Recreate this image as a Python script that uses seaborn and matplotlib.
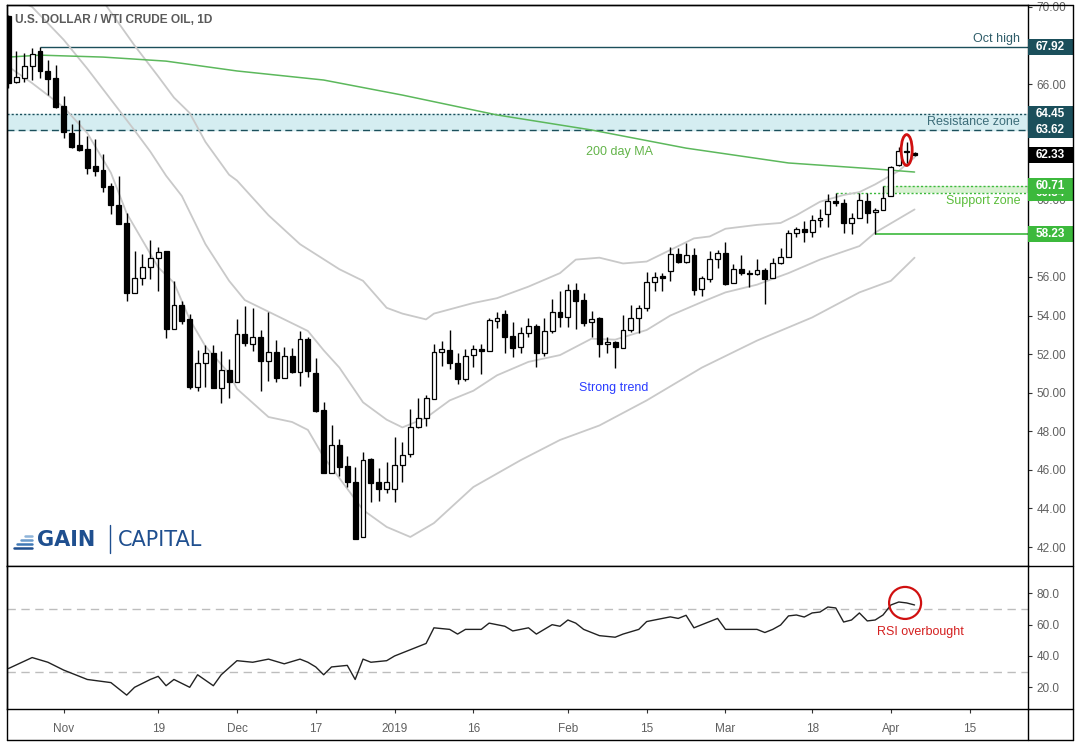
import numpy as np
import pandas as pd
import matplotlib
matplotlib.use("Agg")
import matplotlib.pyplot as plt
import seaborn as sns
from matplotlib.patches import Rectangle, Ellipse
from matplotlib.lines import Line2D

# ---------------- data ----------------
holidays = ["2018-12-25", "2019-01-01"]
dates = pd.bdate_range("2018-10-23", "2019-04-04").drop(pd.to_datetime(holidays))
axis_dates = pd.bdate_range("2018-10-23", "2019-04-30").drop(pd.to_datetime(holidays))

opens = [69.54, 66.11, 66.30, 66.92, 67.71, 66.68, 66.30, 64.86, 63.48, 62.84,
         62.63, 61.77, 61.54, 60.73, 59.73, 58.80, 55.18, 55.93, 56.50, 56.97,
         57.36, 53.29, 54.55, 53.82, 50.31, 51.52, 52.04, 50.23, 51.18, 50.57,
         53.04, 52.51, 52.87, 51.64, 52.09, 50.78, 51.89, 51.09, 52.78, 51.00,
         49.10, 45.82, 47.27, 46.20, 45.37, 42.52, 46.55, 45.37, 44.99, 44.99,
         46.25, 46.82, 48.21, 48.67, 49.66, 52.09, 52.20, 51.52, 50.69, 51.94,
         52.26, 52.15, 53.73, 54.06, 52.94, 52.35, 53.08, 53.46, 52.04, 53.20,
         54.20, 53.94, 55.32, 54.80, 53.65, 53.87, 52.51, 52.61, 52.33, 53.25,
         53.89, 54.41, 55.72, 56.04, 56.32, 57.17, 56.76, 57.14, 55.36, 55.89,
         56.92, 57.22, 55.67, 56.40, 56.22, 56.14, 56.34, 55.93, 56.71, 57.02,
         58.26, 58.47, 58.31, 58.94, 59.26, 59.94, 59.82, 58.81, 59.04, 59.94,
         59.35, 59.47, 60.20, 61.78, 62.55, 62.42]
highs = [69.60, 67.73, 67.62, 67.85, 67.92, 67.25, 66.99, 65.38, 63.93, 64.14,
         63.31, 63.15, 62.37, 60.89, 61.25, 59.30, 57.36, 57.19, 57.92, 57.57,
         57.36, 55.79, 54.75, 54.08, 52.21, 52.47, 52.47, 52.18, 51.73, 53.80,
         54.49, 54.37, 53.25, 54.17, 52.73, 52.38, 52.33, 53.18, 52.87, 51.78,
         49.50, 48.31, 47.61, 46.72, 46.15, 46.91, 46.60, 46.11, 46.42, 47.70,
         47.43, 49.15, 49.74, 49.88, 52.52, 52.69, 53.25, 52.04, 52.25, 52.47,
         52.52, 53.86, 54.20, 54.29, 53.65, 53.42, 53.86, 53.56, 53.86, 54.84,
         55.29, 55.62, 55.67, 55.15, 54.23, 53.91, 52.90, 52.69, 54.03, 54.55,
         54.55, 56.27, 56.27, 56.22, 57.57, 57.48, 57.74, 57.52, 56.06, 57.34,
         57.40, 57.81, 56.67, 57.14, 56.36, 56.91, 56.48, 56.97, 57.52, 58.43,
         58.60, 58.92, 59.21, 59.51, 60.28, 60.34, 60.03, 59.33, 60.34, 60.34,
         59.56, 60.71, 61.75, 62.75, 62.98, 62.49]
lows = [65.80, 66.08, 66.09, 66.21, 66.33, 65.43, 64.75, 63.22, 62.67, 62.55,
        61.35, 61.23, 60.40, 59.28, 58.74, 54.77, 55.18, 55.58, 55.88, 55.29,
        52.82, 53.29, 53.56, 50.18, 50.10, 50.31, 50.23, 49.45, 49.71, 50.57,
        52.44, 52.18, 50.10, 50.62, 50.57, 50.78, 51.00, 50.35, 50.83, 49.02,
        45.82, 45.82, 45.68, 45.09, 42.40, 42.52, 44.35, 44.40, 44.78, 44.35,
        45.35, 46.65, 48.15, 48.29, 49.66, 51.38, 51.21, 50.43, 50.62, 51.32,
        50.97, 52.15, 53.34, 52.07, 51.87, 52.07, 52.90, 51.35, 51.90, 53.11,
        53.42, 53.42, 53.30, 53.47, 52.87, 51.83, 52.07, 51.26, 52.33, 53.15,
        53.11, 54.25, 55.27, 55.29, 55.81, 56.71, 56.71, 55.08, 55.03, 55.75,
        56.48, 55.58, 55.67, 56.10, 55.49, 56.10, 54.58, 55.93, 56.67, 57.02,
        58.05, 57.80, 58.09, 58.60, 58.60, 59.68, 58.29, 58.21, 59.04, 58.81,
        58.23, 59.47, 60.20, 61.75, 61.89, 62.27]
closes = [66.05, 66.35, 66.92, 67.56, 66.66, 66.28, 64.79, 63.50, 62.75, 62.58,
          61.66, 61.51, 60.68, 59.75, 58.74, 55.18, 55.93, 56.50, 56.97, 57.31,
          53.29, 54.55, 53.73, 50.31, 51.52, 52.04, 50.23, 51.18, 50.57, 53.03,
          52.56, 52.87, 51.64, 52.09, 50.78, 51.89, 51.09, 52.77, 51.14, 49.05,
          45.82, 47.27, 46.13, 45.35, 42.40, 46.49, 45.30, 44.99, 45.37, 46.25,
          46.77, 48.21, 48.67, 49.71, 52.09, 52.25, 51.52, 50.69, 51.92, 52.26,
          52.15, 53.77, 53.86, 52.90, 52.30, 53.08, 53.46, 52.04, 53.20, 54.20,
          53.94, 55.32, 54.77, 53.63, 53.82, 52.54, 52.63, 52.38, 53.25, 53.86,
          54.37, 55.72, 55.98, 55.97, 57.17, 56.77, 57.14, 55.34, 55.93, 56.93,
          57.22, 55.63, 56.40, 56.19, 56.14, 56.34, 55.91, 56.71, 57.02, 58.26,
          58.47, 58.31, 58.95, 59.04, 59.94, 59.82, 58.81, 59.04, 59.99, 59.33,
          59.47, 60.11, 61.71, 62.53, 62.47, 62.33]

# Bollinger bands (read at sample candles)
bb_upper_idx = [0, 6, 10, 12, 16, 19, 21, 23, 25, 28, 29, 33, 37, 42, 45, 48, 50, 53, 54, 59,
                62, 66, 70, 72, 75, 78, 81, 84, 87, 89, 91, 95, 98, 100, 103, 106, 108, 110, 113, 115]
bb_upper = [75.0, 72.5, 71.0, 70.3, 68.0, 66.4, 65.3, 64.5, 63.0, 61.3, 61.0, 59.2, 57.7, 56.4,
            55.8, 54.4, 54.1, 53.8, 54.1, 54.65, 54.9, 55.5, 56.2, 56.9, 57.0, 56.7, 56.8, 57.4,
            58.0, 58.1, 58.5, 58.7, 58.8, 59.2, 59.9, 60.25, 60.4, 60.8, 61.5, 62.2]
bb_mid_idx = [0, 3, 7, 10, 13, 16, 18, 20, 22, 25, 28, 30, 32, 35, 38, 40, 42, 45, 48, 50, 53,
              56, 59, 62, 66, 70, 74, 77, 81, 84, 88, 91, 95, 99, 103, 108, 110, 115]
bb_mid = [70.6, 70.0, 68.3, 66.8, 65.2, 63.6, 62.5, 61.25, 60.2, 57.7, 55.8, 54.8, 54.4, 53.8,
          53.2, 52.2, 51.3, 49.5, 48.6, 48.2, 48.7, 49.6, 50.1, 50.9, 51.6, 51.95, 52.8, 52.75,
          53.25, 54.0, 54.7, 55.2, 55.6, 56.2, 56.9, 57.6, 58.3, 59.5]
bb_lower_idx = [0, 3, 7, 10, 13, 15, 17, 19, 21, 23, 25, 28, 29, 33, 36, 38, 40, 45, 48, 51, 54,
                59, 65, 70, 75, 81, 88, 95, 102, 108, 112, 115]
bb_lower = [66.9, 66.05, 64.8, 63.46, 61.4, 59.3, 57.9, 56.5, 55.7, 53.8, 52.4, 51.0, 50.2, 48.74,
            48.48, 48.07, 46.67, 43.92, 43.04, 42.52, 43.24, 45.11, 46.5, 47.55, 48.3, 49.6, 51.3,
            52.7, 53.9, 55.2, 55.8, 57.0]

ma200_idx = [0, 4, 12, 20, 29, 40, 50, 62, 74, 86, 99, 110, 115]
ma200 = [67.40, 67.50, 67.40, 67.19, 66.68, 66.21, 65.43, 64.40, 63.62, 62.68, 61.91, 61.60, 61.44]

rsi_idx = [0, 3, 5, 7, 10, 13, 15, 16, 18, 19, 20, 21, 23, 24, 26, 27, 29, 31, 33, 35, 37, 38, 39,
           40, 41, 43, 44, 45, 46, 48, 49, 51, 53, 54, 56, 57, 58, 60, 61, 63, 64, 66, 67, 69, 70,
           71, 72, 73, 75, 77, 78, 80, 81, 84, 85, 86, 87, 89, 90, 91, 93, 95, 96, 97, 98, 99, 100,
           101, 102, 103, 104, 105, 106, 107, 108, 109, 110, 111, 112, 113, 114, 115]
rsi = [32, 39, 36, 31, 25, 23, 15, 20, 25, 27, 21, 25, 20, 28, 21, 28, 37, 36, 38, 35, 38, 36, 33,
       28, 33, 34, 25, 38, 36, 37, 40, 44, 48, 58, 57, 54, 57, 57, 61, 59, 56, 58, 54, 60, 59, 63,
       61, 57, 53, 52, 54, 57, 62, 65, 64, 66, 58, 62, 64, 57, 57, 57, 55, 57, 59.8, 65.6, 66.2,
       64.9, 67.5, 68.1, 71.3, 70.7, 61.7, 63.0, 67.5, 62.4, 63.0, 66.2, 72.6, 74.5, 73.9, 72.6]

tick_dates = ["2018-11-01", "2018-11-19", "2018-12-03", "2018-12-17", "2019-01-02", "2019-01-16",
              "2019-02-01", "2019-02-15", "2019-03-01", "2019-03-18", "2019-04-01", "2019-04-15"]
tick_labels = ["Nov", "19", "Dec", "17", "2019", "16", "Feb", "15", "Mar", "18", "Apr", "15"]
price_ticks = [42, 44, 46, 48, 50, 52, 54, 56, 58, 60, 62, 64, 66, 68, 70]
hidden_price_ticks = [58, 62, 64, 68]  # covered by level boxes in the reference

oct_high = 67.92
res_top, res_bot = 64.45, 63.62
sup_top, sup_bot = 60.71, 60.34
sup_low = 58.23
last_price = 62.33

# ---------------- style ----------------
sns.set_theme(style="white")
plt.rcParams["font.family"] = ["Liberation Sans", "DejaVu Sans"]

W, H = 1079, 745
fig = plt.figure(figsize=(W / 100, H / 100), dpi=100)

def fx(px):
    return px / W

def fy(py):
    return 1 - py / H

L, R = 7, 1028
ax = fig.add_axes([fx(L), fy(566), fx(R - L), fy(5) - fy(566)])
axr = fig.add_axes([fx(L), fy(709), fx(R - L), fy(566) - fy(709)])

n = len(closes)
x = np.arange(n)
o = np.array(opens); c = np.array(closes); h = np.array(highs); lo = np.array(lows)
xmin, xmax = -0.19, 129.4

# bands & MA via seaborn
band_col = "#c9c9c9"
sns.lineplot(x=bb_upper_idx, y=bb_upper, ax=ax, color=band_col, linewidth=1.3, zorder=2)
sns.lineplot(x=bb_mid_idx, y=bb_mid, ax=ax, color=band_col, linewidth=1.3, zorder=2)
sns.lineplot(x=bb_lower_idx, y=bb_lower, ax=ax, color=band_col, linewidth=1.3, zorder=2)
sns.lineplot(x=ma200_idx, y=ma200, ax=ax, color="#5cb85c", linewidth=1.1, zorder=2.2)

# zones
teal = "#1b4f5b"
green = "#3cb93c"
ax.axhspan(res_bot, res_top, color="#d5edf1", zorder=1)
ax.axhline(res_top, color=teal, linestyle=(0, (1.5, 1.5)), linewidth=1.0, zorder=1.5)
ax.axhline(res_bot, color=teal, linestyle=(0, (5, 3)), linewidth=1.0, zorder=1.5)
ax.hlines(oct_high, 4, xmax, color=teal, linewidth=1.0, zorder=1.5)
ax.fill_between([111, xmax], sup_bot, sup_top, color="#d9f1d2", zorder=1, linewidth=0)
ax.hlines(sup_top, 111, xmax, color=green, linestyle=(0, (1.5, 1.5)), linewidth=1.0, zorder=1.5)
ax.hlines(sup_bot, 105, xmax, color=green, linestyle=(0, (1.5, 1.5)), linewidth=1.0, zorder=1.5)
ax.hlines(sup_low, 110, xmax, color=green, linewidth=1.2, zorder=1.5)

# candles
up = c >= o
body_lo = np.minimum(o, c)
body_h = np.maximum(np.abs(c - o), 0.06)
ax.vlines(x, lo, h, color="black", linewidth=1.0, zorder=3)
ax.bar(x, body_h, bottom=body_lo, width=0.62, color=np.where(up, "white", "black"),
       edgecolor="black", linewidth=0.9, zorder=4)

ax.set_xlim(xmin, xmax)
ax.set_ylim(41.015, 70.10)
ax.set_xlabel(""); ax.set_ylabel("")
ax.yaxis.tick_right()
ax.set_yticks(price_ticks)
ax.set_yticklabels(["" if v in hidden_price_ticks else f"{v:.2f}" for v in price_ticks])
ax.tick_params(axis="y", right=True, left=False, direction="out", length=3, width=0.8,
               color="#333333", labelsize=8.5, labelcolor="#606060", pad=3)
ax.tick_params(axis="x", bottom=False, labelbottom=False)
for s in ax.spines.values():
    s.set_color("black"); s.set_linewidth(1.0); s.set_visible(True)

# right-side price boxes
ytr = ax.get_yaxis_transform()
bw = (1073 - R) / (R - L)
def pbox(val, fc, z=20, hpx=15.5):
    hh = hpx / 19.29
    ax.add_patch(Rectangle((1.0, val - hh / 2), bw, hh, transform=ytr, facecolor=fc,
                           edgecolor="none", clip_on=False, zorder=z))
    ax.text(1.0 + bw / 2, val, f"{val:.2f}", transform=ytr, ha="center", va="center",
            color="white", fontsize=8.5, fontweight="bold", clip_on=False, zorder=z + 1)

pbox(oct_high, teal)
pbox(res_top, teal)
pbox(res_bot, teal)
pbox(last_price, "black")
pbox(sup_bot, green, z=18)
pbox(sup_top, green, z=20)
pbox(sup_low, green)

# text annotations
ax.text(128.4, 68.33, "Oct high", ha="right", va="center", color="#2f5d69", fontsize=9)
ax.text(128.3, 64.03, "Resistance zone", ha="right", va="center", color="#3d6d79", fontsize=9)
ax.text(128.4, 59.94, "Support zone", ha="right", va="center", color="#5bbd3b", fontsize=9)
ax.text(77.6, 62.48, "200 day MA", ha="center", va="center", color="#63b44a", fontsize=9)
ax.text(76.8, 50.24, "Strong trend", ha="center", va="center", color="#2a3cff", fontsize=9)
ax.add_patch(Ellipse((114, 62.58), 1.4, 1.6, facecolor="none", edgecolor="#d01010",
                     linewidth=2.0, zorder=6))

# title & logo
ax.text(0.0078, 0.973, "U.S. DOLLAR / WTI CRUDE OIL, 1D", transform=ax.transAxes, ha="left",
        va="center", color="#5a5a5a", fontsize=8.6, fontweight="bold",
        family=["Liberation Sans", "DejaVu Sans"])
fig.text(fx(37), fy(546), "GAIN", ha="left", va="baseline", color="#1f4f8f", fontsize=15,
         fontweight="bold", family=["DejaVu Sans"])
fig.text(fx(118), fy(546), "CAPITAL", ha="left", va="baseline", color="#1f4f8f", fontsize=15,
         family=["DejaVu Sans"])
fig.add_artist(Line2D([fx(110), fx(110)], [fy(525), fy(553)], color="#1f4f8f", linewidth=1.0))
for k, (x0, yy) in enumerate([(25, 536), (21, 540), (17, 544), (14, 548)]):
    fig.add_artist(Line2D([fx(x0), fx(32)], [fy(yy), fy(yy)],
                          color=["#8fb4d9", "#6a9bcc", "#3f78b5", "#1f4f8f"][k], linewidth=1.8))

# RSI panel
sns.lineplot(x=rsi_idx, y=rsi, ax=axr, color="#222222", linewidth=1.0, zorder=3)
axr.axhline(70, color="#bdbdbd", linestyle=(0, (6, 4)), linewidth=1.0, zorder=1)
axr.axhline(30, color="#bdbdbd", linestyle=(0, (6, 4)), linewidth=1.0, zorder=1)
axr.set_xlim(xmin, xmax)
axr.set_ylim(6.13, 97.5)
axr.set_xlabel(""); axr.set_ylabel("")
axr.yaxis.tick_right()
axr.set_yticks([20, 40, 60, 80])
axr.set_yticklabels(["20.0", "40.0", "60.0", "80.0"])
axr.tick_params(axis="y", right=True, left=False, direction="out", length=3, width=0.8,
                color="#333333", labelsize=8.5, labelcolor="#606060", pad=3)
tick_pos = [axis_dates.get_loc(pd.Timestamp(d)) for d in tick_dates]
axr.set_xticks(tick_pos)
axr.set_xticklabels(tick_labels)
axr.tick_params(axis="x", bottom=True, direction="out", length=3, width=0.8, color="#333333",
                labelsize=8.5, labelcolor="#606060", pad=7)
for s in axr.spines.values():
    s.set_color("black"); s.set_linewidth(1.0); s.set_visible(True)
axr.add_patch(Ellipse((113.8, 73.9), 32 / 7.88, 32 / 1.565, facecolor="none", edgecolor="#d01010",
                      linewidth=1.6, zorder=6))
axr.text(115.7, 55.3, "RSI overbought", ha="center", va="center", color="#d42020", fontsize=9)

# outer frame
for (xa, ya, xb, yb) in [(L, 5, 1073, 5), (1073, 5, 1073, 740), (L, 740, 1073, 740), (L, 5, L, 740),
                         (R, 566, 1073, 566), (R, 709, 1073, 709), (R, 709, R, 740)]:
    fig.add_artist(Line2D([fx(xa), fx(xb)], [fy(ya), fy(yb)], color="black", linewidth=1.0))

fig.savefig("out.png", dpi=100)
